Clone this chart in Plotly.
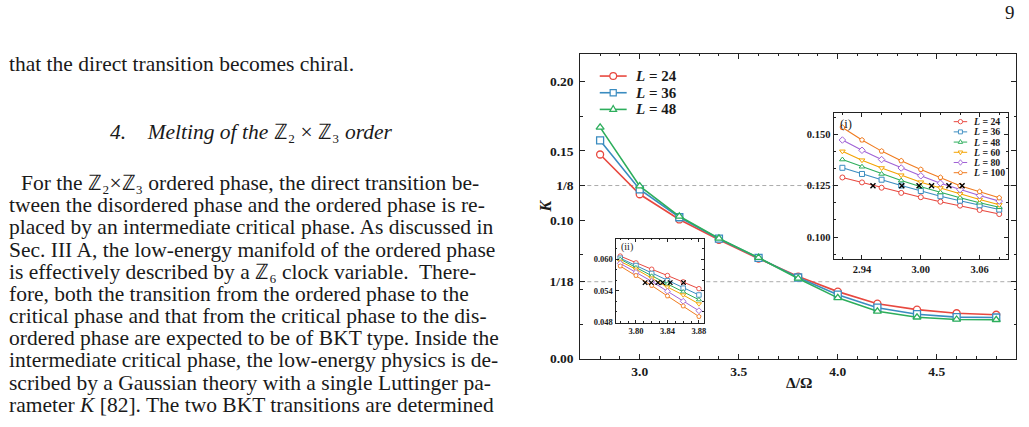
import math
import plotly.graph_objects as go

W, H = 1029, 427

# ---------------- data ----------------
system_sizes_main = ["24", "36", "48"]
delta = [2.8, 3.0, 3.2, 3.4, 3.6, 3.8, 4.0, 4.2, 4.4, 4.6, 4.8]
K_L24 = [0.1474, 0.1187, 0.1005, 0.0858, 0.0722, 0.0593, 0.0484, 0.0397, 0.0354, 0.0328, 0.0317]
K_L36 = [0.1576, 0.1222, 0.1021, 0.0866, 0.0727, 0.0586, 0.0462, 0.0368, 0.0321, 0.0300, 0.0297]
K_L48 = [0.1670, 0.1246, 0.1028, 0.0868, 0.0729, 0.0579, 0.0439, 0.0342, 0.0299, 0.0283, 0.0281]

system_sizes_inset = ["24", "36", "48", "60", "80", "100"]
delta_i = [2.92, 2.94, 2.96, 2.98, 3.00, 3.02, 3.04, 3.06, 3.08]
Ki_24 = [0.1290, 0.1266, 0.1240, 0.1215, 0.1194, 0.1172, 0.1153, 0.1132, 0.1112]
Ki_36 = [0.1337, 0.1307, 0.1279, 0.1251, 0.1224, 0.1199, 0.1177, 0.1155, 0.1134]
Ki_48 = [0.1377, 0.1342, 0.1307, 0.1275, 0.1245, 0.1217, 0.1191, 0.1167, 0.1145]
Ki_60 = [0.1417, 0.1374, 0.1336, 0.1301, 0.1267, 0.1239, 0.1210, 0.1183, 0.1157]
Ki_80 = [0.1472, 0.1422, 0.1377, 0.1336, 0.1298, 0.1262, 0.1231, 0.1202, 0.1175]
Ki_100 = [0.1533, 0.1472, 0.1418, 0.1371, 0.1329, 0.1290, 0.1250, 0.1221, 0.1191]
cross_i_delta = [2.9512, 2.9806, 2.9982, 3.0110, 3.0287, 3.0421]

delta_ii = [3.78, 3.80, 3.82, 3.84, 3.86, 3.88]
Kii_24 = [0.0606, 0.0593, 0.0581, 0.0569, 0.0557, 0.0544]
Kii_36 = [0.0602, 0.0588, 0.0573, 0.0559, 0.0545, 0.0532]
Kii_48 = [0.0600, 0.0584, 0.0568, 0.0553, 0.0538, 0.0523]
Kii_60 = [0.0596, 0.0581, 0.0564, 0.0547, 0.0532, 0.0515]
Kii_80 = [0.0592, 0.0575, 0.0558, 0.0539, 0.0520, 0.0502]
Kii_100 = [0.0587, 0.0569, 0.0550, 0.0530, 0.0511, 0.0491]
cross_ii_delta = [3.8116, 3.8194, 3.8278, 3.8338, 3.8435, 3.8604]

K_ref_high = 1 / 8
K_ref_low = 1 / 18

main_yticks = [0.0, 1 / 18, 0.10, 1 / 8, 0.15, 0.20]
main_yticktext = ["0.00", "1/18", "0.10", "1/8", "0.15", "0.20"]

page_lines_top = "that the direct transition becomes chiral."
section_title = "<i>4.</i>\u2003<i>Melting of the</i> \u2124\u2082 \u00d7 \u2124\u2083 <i>order</i>"
paragraph = [
    "For the \u2124\u2082\u00d7\u2124\u2083 ordered phase, the direct transition be-",
    "tween the disordered phase and the ordered phase is re-",
    "placed by an intermediate critical phase. As discussed in",
    "Sec. III\u2009A, the low-energy manifold of the ordered phase",
    "is effectively described by a \u2124\u2086 clock variable.  There-",
    "fore, both the transition from the ordered phase to the",
    "critical phase and that from the critical phase to the dis-",
    "ordered phase are expected to be of BKT type. Inside the",
    "intermediate critical phase, the low-energy physics is de-",
    "scribed by a Gaussian theory with a single Luttinger pa-",
    "rameter <i>K</i> [82]. The two BKT transitions are determined",
]
page_number = "9"

# ---------------- styles ----------------
C_RED, C_BLUE, C_GREEN = "#E8483F", "#3A8CC0", "#2DAE5C"
C_AMBER, C_PURPLE, C_ORANGE = "#F4A300", "#A062D6", "#F07B1F"
main_colors = [C_RED, C_BLUE, C_GREEN]
main_symbols = ["circle", "square", "triangle-up"]
inset_colors = [C_RED, C_BLUE, C_GREEN, C_AMBER, C_PURPLE, C_ORANGE]
inset_symbols = ["circle", "square", "triangle-up", "triangle-down", "diamond", "pentagon"]

SERIF = "Liberation Serif"
INK = "#1a1a1a"


def px(x):
    return x / W


def py(y):
    return 1 - y / H


fig = go.Figure()

# main curves
for lab, ys, col, sym in zip(system_sizes_main, [K_L24, K_L36, K_L48], main_colors, main_symbols):
    fig.add_trace(go.Scatter(
        x=delta, y=ys, mode="lines+markers", xaxis="x", yaxis="y",
        line=dict(color=col, width=1.6),
        marker=dict(symbol=sym, size=7, color="white", line=dict(color=col, width=1.3)),
        showlegend=False, name="L = " + lab))

# inset (i)
for lab, ys, col, sym in zip(system_sizes_inset, [Ki_24, Ki_36, Ki_48, Ki_60, Ki_80, Ki_100],
                             inset_colors, inset_symbols):
    fig.add_trace(go.Scatter(
        x=delta_i, y=ys, mode="lines+markers", xaxis="x2", yaxis="y2",
        line=dict(color=col, width=1.1),
        marker=dict(symbol=sym, size=5, color="white", line=dict(color=col, width=1)),
        showlegend=False, name="L = " + lab))
fig.add_trace(go.Scatter(
    x=cross_i_delta, y=[K_ref_high] * len(cross_i_delta), mode="markers", xaxis="x2", yaxis="y2",
    marker=dict(symbol="x-thin", size=5, line=dict(color="black", width=1.4)), showlegend=False))

# inset (ii)
for lab, ys, col, sym in zip(system_sizes_inset, [Kii_24, Kii_36, Kii_48, Kii_60, Kii_80, Kii_100],
                             inset_colors, inset_symbols):
    fig.add_trace(go.Scatter(
        x=delta_ii, y=ys, mode="lines+markers", xaxis="x3", yaxis="y3",
        line=dict(color=col, width=1.0),
        marker=dict(symbol=sym, size=4.5, color="white", line=dict(color=col, width=0.9)),
        showlegend=False, name="L = " + lab))
fig.add_trace(go.Scatter(
    x=cross_ii_delta, y=[K_ref_low] * len(cross_ii_delta), mode="markers", xaxis="x3", yaxis="y3",
    marker=dict(symbol="x-thin", size=4.5, line=dict(color="black", width=1.3)), showlegend=False))

tickfont_main = dict(family=SERIF, size=13.5, color=INK, weight="bold")
tickfont_i = dict(family=SERIF, size=10.5, color=INK, weight="bold")
tickfont_ii = dict(family=SERIF, size=8.5, color=INK, weight="bold")

axis_common = dict(showline=True, linecolor="#222", linewidth=1, mirror="allticks",
                   ticks="inside", showgrid=False, zeroline=False, tickcolor="#222")

shapes = []
annotations = []

# reference dashed lines
for xr, yr, val in [("x domain", "y", K_ref_high), ("x domain", "y", K_ref_low),
                    ("x2 domain", "y2", K_ref_high), ("x3 domain", "y3", K_ref_low)]:
    shapes.append(dict(type="line", xref=xr, yref=yr, x0=0, x1=1, y0=val, y1=val, layer="below",
                       line=dict(color="#ABABAB", width=1, dash="4px,3px")))


# manual legends
def marker_shape(sym, cx, cy, r, color, lw):
    d = dict(xref="paper", yref="paper", xsizemode="pixel", ysizemode="pixel",
             xanchor=px(cx), yanchor=py(cy), line=dict(color=color, width=lw),
             fillcolor="white", layer="above")
    if sym == "circle":
        d.update(type="circle", x0=-r, x1=r, y0=-r, y1=r)
    elif sym == "square":
        d.update(type="rect", x0=-r * 0.9, x1=r * 0.9, y0=-r * 0.9, y1=r * 0.9)
    else:
        if sym == "triangle-up":
            pts = [(0, r * 1.15), (r, -r * 0.6), (-r, -r * 0.6)]
        elif sym == "triangle-down":
            pts = [(0, -r * 1.15), (r, r * 0.6), (-r, r * 0.6)]
        elif sym == "diamond":
            pts = [(0, r * 1.25), (r, 0), (0, -r * 1.25), (-r, 0)]
        else:
            pts = [(r * math.sin(2 * math.pi * k / 5), r * math.cos(2 * math.pi * k / 5)) for k in range(5)]
        path = "M" + " L".join(f"{a:.2f},{b:.2f}" for a, b in pts) + " Z"
        d.update(type="path", path=path)
    return d


def legend(entries, x0, x1, ys, tx, fsize, r, lw, mlw):
    for (lab, col, sym), y in zip(entries, ys):
        shapes.append(dict(type="line", xref="paper", yref="paper", x0=px(x0), x1=px(x1),
                           y0=py(y), y1=py(y), line=dict(color=col, width=lw), layer="above"))
        shapes.append(marker_shape(sym, (x0 + x1) / 2, y, r, col, mlw))
        annotations.append(dict(xref="paper", yref="paper", x=px(tx), y=py(y), xanchor="left",
                                yanchor="middle", showarrow=False, text=f"<i>L</i> = {lab}",
                                font=dict(family=SERIF, size=fsize, color=INK, weight="bold")))


legend(list(zip(system_sizes_main, main_colors, main_symbols)), 601.5, 628.5,
       [77.5, 94.5, 111.5], 635, 15, 3.4, 1.6, 1.2)
legend(list(zip(system_sizes_inset, inset_colors, inset_symbols)), 956.5, 970,
       [124, 134.4, 144.8, 155.2, 165.6, 176], 974, 9.8, 2.2, 1.0, 0.9)

# inset labels
annotations.append(dict(xref="paper", yref="paper", x=px(840), y=py(126), xanchor="left", yanchor="middle",
                        showarrow=False, text="(i)", font=dict(family=SERIF, size=12.5, color=INK)))
annotations.append(dict(xref="paper", yref="paper", x=px(621), y=py(252), xanchor="left", yanchor="middle",
                        showarrow=False, text="(ii)", font=dict(family=SERIF, size=10, color=INK)))

# axis titles
annotations.append(dict(xref="paper", yref="paper", x=px(547), y=py(210), xanchor="center", yanchor="middle",
                        showarrow=False, text="<i>K</i>", textangle=-90,
                        font=dict(family=SERIF, size=16, color=INK, weight="bold")))
annotations.append(dict(xref="paper", yref="paper", x=px(801), y=py(390), xanchor="center", yanchor="middle",
                        showarrow=False, text="\u0394/\u03a9",
                        font=dict(family=SERIF, size=15.5, color=INK, weight="bold")))

# page text
TXT = dict(family=SERIF, size=21.5, color=INK)
annotations.append(dict(xref="paper", yref="paper", x=px(7), y=py(65), xanchor="left", yanchor="middle",
                        showarrow=False, text=page_lines_top, font=TXT))
annotations.append(dict(xref="paper", yref="paper", x=px(252), y=py(135), xanchor="center", yanchor="middle",
                        showarrow=False, text=section_title, font=TXT))
for i, line in enumerate(paragraph):
    annotations.append(dict(xref="paper", yref="paper", x=px(19 if i == 0 else 7), y=py(186.5 + 22.6 * i),
                            xanchor="left", yanchor="middle", showarrow=False, text=line, font=TXT))
annotations.append(dict(xref="paper", yref="paper", x=px(1013), y=py(13), xanchor="center", yanchor="middle",
                        showarrow=False, text=page_number, font=dict(family=SERIF, size=19, color=INK)))

fig.update_layout(
    width=W, height=H, margin=dict(l=0, r=0, t=0, b=0),
    paper_bgcolor="white", plot_bgcolor="white", showlegend=False,
    xaxis=dict(domain=[px(582), px(1019)], anchor="y", range=[2.7, 4.9], tickmode="linear", tick0=3.0,
               dtick=0.5, tickformat=".1f", ticklen=5, tickfont=tickfont_main,
               minor=dict(ticks="inside", ticklen=2.5, dtick=0.1, tick0=3.0, tickcolor="#222"), **axis_common),
    yaxis=dict(domain=[py(365.5), py(55)], anchor="x", range=[0, 0.22], tickmode="array",
               tickvals=main_yticks, ticktext=main_yticktext, ticklen=5, tickfont=tickfont_main,
               ticklabelstandoff=3,
               minor=dict(ticks="inside", ticklen=2.5, dtick=0.025, tick0=0, tickcolor="#222"), **axis_common),
    xaxis2=dict(domain=[px(836), px(1011)], anchor="y2", range=[2.911, 3.089], tickmode="linear", tick0=2.94,
                dtick=0.06, tickformat=".2f", ticklen=4, tickfont=tickfont_i,
                minor=dict(ticks="inside", ticklen=2, dtick=0.02, tick0=2.94, tickcolor="#222"), **axis_common),
    yaxis2=dict(domain=[py(264.3), py(115)], anchor="x2", range=[0.0892, 0.1604], tickmode="linear",
                tick0=0.1, dtick=0.025, tickformat=".3f", ticklen=4, tickfont=tickfont_i,
                minor=dict(ticks="inside", ticklen=2, dtick=0.025 / 3, tick0=0.1, tickcolor="#222"),
                **axis_common),
    xaxis3=dict(domain=[px(617.3), px(705.7)], anchor="y3", range=[3.774, 3.886], tickmode="linear", tick0=3.80,
                dtick=0.04, tickformat=".2f", ticklen=3, tickfont=tickfont_ii,
                minor=dict(ticks="inside", ticklen=1.5, dtick=0.01, tick0=3.80, tickcolor="#222"),
                **axis_common),
    yaxis3=dict(domain=[py(329), py(243.3)], anchor="x3", range=[0.0479, 0.0639], tickmode="linear",
                tick0=0.048, dtick=0.006, tickformat=".3f", ticklen=3, tickfont=tickfont_ii,
                minor=dict(ticks="inside", ticklen=1.5, dtick=0.002, tick0=0.048, tickcolor="#222"),
                **axis_common),
    shapes=shapes, annotations=annotations,
)

fig.write_html("out.html")
